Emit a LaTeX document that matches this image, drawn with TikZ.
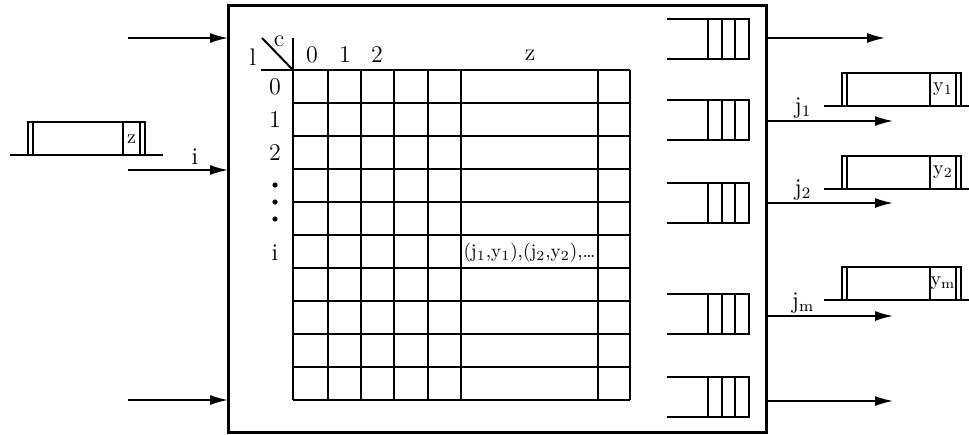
\documentclass[tikz,border=0pt]{standalone}
\usepackage{amsmath}
\usetikzlibrary{arrows.meta,positioning,calc}
\tikzset{
  frame/.style  = {draw,line width=1.5pt,inner sep=0pt,outer sep=0pt},
  gridln/.style = {line width=1pt},
  qline/.style  = {line width=1pt},
  sig/.style    = {-{Latex[length=9pt,width=5pt]},line width=0.8pt},
  lbl/.style    = {font=\fontsize{12}{14}\selectfont,inner sep=0pt},
  smalllbl/.style = {font=\fontsize{10}{12}\selectfont,inner sep=0pt},
}

\begin{document}
\begin{tikzpicture}[x=0.5pt,y=-0.5pt]
  \useasboundingbox (0,0) rectangle (969,434);
  % the processor
  \node[frame,minimum width=269pt,minimum height=213.5pt,anchor=north west] (sys) at (228,5) {};

  % inputs
  \foreach \y [count=\k] in {38,170,400}{
    \coordinate (in\k) at (128,\y);
    \draw[sig] (in\k) -- (in\k -| sys.west);
  }
  \node[lbl] (ilbl) at (195,157) {i};

  % incoming message
  \draw[qline] (10,155) -- (163,155);
  \draw[qline] (28,155) -- (28,122) -- (145,122) -- (145,155);
  \foreach \x in {33,123,140} \draw[qline] (\x,122) -- (\x,155);
  \node[smalllbl] (zq) at (131.5,139) {z};

  % table
  \foreach \y in {70,103,...,400} \draw[gridln] (293,\y) -- (630,\y);
  \foreach \x in {293,328,361,394,428,461,598,630} \draw[gridln] (\x,70) -- (\x,400);
  \draw[gridln] (261,70) -- (293,70);
  \draw[gridln] (293,38) -- (293,70);
  \draw[gridln] (262,38) -- (293,70);
  \node[lbl] (cc) at (279,41) {c};
  \node[lbl] (ll) at (253,57) {l};
  \foreach \x/\t [count=\k] in {312/0,345/1,377/2,530/z}
    \node[lbl] (col\k) at (\x,55) {\t};
  \foreach \y/\t [count=\k] in {87/0,120/1,153/2,253/i}
    \node[lbl] (row\k) at (275,\y) {\t};
  \foreach \y in {185,202,219} \fill (275,\y) circle[radius=1.3pt];
  \node[smalllbl,font=\fontsize{9.6}{11}\selectfont] (cell) at (529.5,253) {(j$_1$,y$_1$),(j$_2$,y$_2$),\dots};

  % output queues
  \foreach \t in {19,100,183,294,377}{
    \draw[qline] (667,\t) -- (749,\t) -- (749,\t+40) -- (667,\t+40);
    \foreach \x in {708,722,735} \draw[qline] (\x,\t) -- (\x,\t+40);
  }

  % outputs
  \foreach \y/\e [count=\k] in {38/885,121/893,203/893,316/893,401/893}{
    \coordinate (out\k) at (\e,\y);
    \draw[sig] (out\k -| sys.east) -- (out\k);
  }
  \node[lbl] (j1) at (803,108) {j$_1$};
  \node[lbl] (j2) at (803,190) {j$_2$};
  \node[lbl] (jm) at (803,303) {j$_\mathrm{m}$};

  % outgoing messages
  \foreach \t/\yl [count=\k] in {73/1,156/2,267/\mathrm{m}}{
    \draw[qline] (824,\t+33) -- (969,\t+33);
    \draw[qline] (842,\t+33) -- (842,\t) -- (961,\t) -- (961,\t+33);
    \foreach \x in {847,930,956} \draw[qline] (\x,\t) -- (\x,\t+33);
    \node[smalllbl] (y\k) at (943,\t+16.5) {y$_\yl$};
  }
\end{tikzpicture}
\end{document}
